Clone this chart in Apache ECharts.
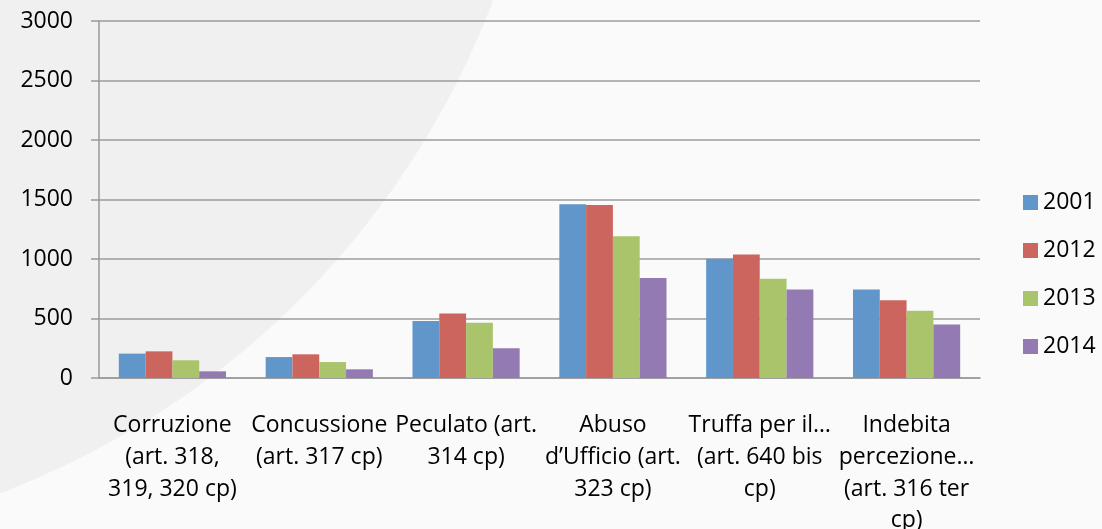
<!DOCTYPE html>
<html>
<head>
<meta charset="utf-8">
<script src="https://cdn.jsdelivr.net/npm/echarts@6/dist/echarts.min.js"></script>
<style>
	html, body { margin : 0; padding : 0; background : #fafafa; }
	#chart { width : 1102px; height : 529px; }
</style>
</head>
<body>
<div id="chart"></div>
<script>
// categorie (reati)
var categories = [
	"Corruzione\n(art. 318,\n319, 320 cp)",
	"Concussione\n(art. 317 cp)",
	"Peculato (art.\n314 cp)",
	"Abuso\nd\u2019Ufficio (art.\n323 cp)",
	"Truffa per il\u2026\n(art. 640 bis\ncp)",
	"Indebita\npercezione\u2026\n(art. 316 ter\ncp)"
];
var years = ["2001", "2012", "2013", "2014"];
var values2001 = [205, 176, 479, 1460, 1003, 743];
var values2012 = [224, 199, 541, 1454, 1037, 653];
var values2013 = [149, 134, 465, 1191, 835, 566];
var values2014 = [56, 73, 250, 840, 743, 449];
var yTicks = [0, 500, 1000, 1500, 2000, 2500, 3000];

var colors = ['#6096c9', '#cd655f', '#aac46b', '#947ab2'];
var fontName = "'Open Sans', sans-serif";

var myChart = echarts.init(document.getElementById('chart'));

var seriesData = [values2001, values2012, values2013, values2014];
var series = [];
for (var i = 0; i < years.length; i++) {
	series.push({
		name : years[i],
		type : 'bar',
		data : seriesData[i],
		barGap : '0%',
		barCategoryGap : '27%',
		itemStyle : {
			color : colors[i]
		}
	});
}

var option = {
	backgroundColor : '#fafafa',
	animation : false,
	color : colors,
	// filigrana (sigillo) sullo sfondo
	graphic : [ {
		type : 'circle',
		silent : true,
		z : -10,
		shape : { cx : -300, cy : -300, r : 848 },
		style : { fill : '#f0f0f0' }
	} ],
	grid : {
		left : 99,
		right : 122,
		top : 21,
		bottom : 151,
		containLabel : false,
		outerBoundsMode : 'none'
	},
	legend : {
		orient : 'vertical',
		left : 1023,
		top : 191,
		padding : 0,
		itemWidth : 15,
		itemHeight : 15,
		itemGap : 25,
		icon : 'rect',
		data : years,
		textStyle : {
			fontFamily : fontName,
			fontSize : 23,
			color : '#000'
		}
	},
	xAxis : {
		type : 'category',
		data : categories,
		axisLine : {
			lineStyle : { color : '#999', width : 1.5 }
		},
		axisTick : {
			length : 7,
			lineStyle : { color : '#999', width : 1.5 }
		},
		axisLabel : {
			interval : 0,
			margin : 32,
			fontFamily : fontName,
			fontSize : 23,
			lineHeight : 31.7,
			color : '#000',
			align : 'center'
		}
	},
	yAxis : {
		type : 'value',
		min : yTicks[0],
		max : yTicks[yTicks.length - 1],
		interval : 500,
		axisLine : {
			show : true,
			lineStyle : { color : '#999', width : 1.5 }
		},
		axisTick : {
			show : true,
			length : 8,
			lineStyle : { color : '#999', width : 1.5 }
		},
		splitLine : {
			lineStyle : { color : '#9d9d9d', width : 1.5 }
		},
		axisLabel : {
			margin : 26,
			padding : [5, 0, 0, 0],
			fontFamily : fontName,
			fontSize : 23,
			color : '#000',
			formatter : function (v) {
				return String(v);
			}
		}
	},
	series : series
};
myChart.setOption(option);
</script>
</body>
</html>
